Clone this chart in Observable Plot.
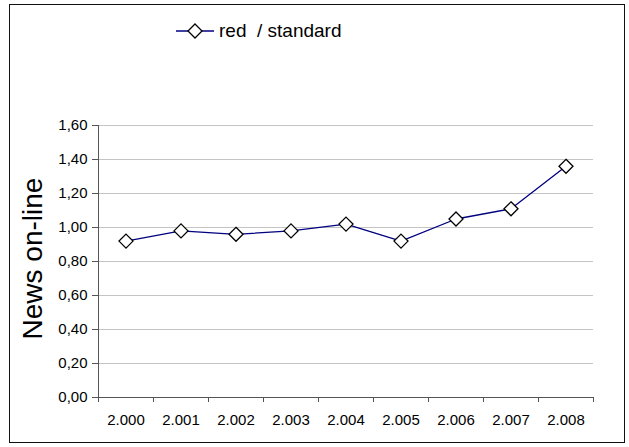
<!DOCTYPE html>
<html><head><meta charset="utf-8">
<script src="https://cdn.jsdelivr.net/npm/d3@7"></script>
<script src="https://cdn.jsdelivr.net/npm/@observablehq/plot@0.6"></script>
<style>
body{margin:0;background:#fff;}
#wrap{position:relative;width:629px;height:447px;font-family:"Liberation Sans",Arial,sans-serif;overflow:hidden;}
#frame{position:absolute;left:9px;top:4px;width:614px;height:437px;border:1.6px solid #111;pointer-events:none;}
#legend{position:absolute;left:176px;top:19px;display:flex;align-items:center;font-size:19px;color:#000;}
#legend svg{display:block;}
#legend span{margin-left:5px;white-space:pre;}
#chart{position:absolute;left:0;top:0;}
</style>
</head><body>
<div id="wrap">
  <div id="chart"></div>
  <div id="frame"></div>
  <div id="legend"></div>
</div>
<script>
const years = ["2.000","2.001","2.002","2.003","2.004","2.005","2.006","2.007","2.008"];
const values = [0.92, 0.98, 0.96, 0.98, 1.02, 0.92, 1.05, 1.11, 1.36];
const yTicks = [0, 0.2, 0.4, 0.6, 0.8, 1.0, 1.2, 1.4, 1.6];
const seriesName = "red  / standard";
const yLabel = "News on-line";

const data = years.map((y, i) => ({pos: i + 0.5, value: values[i], year: y}));
const boundaries = d3.range(years.length + 1);
const centers = d3.range(years.length).map(i => i + 0.5);

const plot = Plot.plot({
  width: 629,
  height: 447,
  marginLeft: 98,
  marginRight: 36,
  marginTop: 125,
  marginBottom: 50,
  style: {fontFamily: '"Liberation Sans", Arial, sans-serif', color: "#000", background: "transparent"},
  x: {type: "linear", domain: [0, years.length]},
  y: {domain: [yTicks[0], yTicks[yTicks.length - 1]]},
  marks: [
    Plot.gridY(yTicks.filter(d => d > 0), {stroke: "#c4c4c4", strokeOpacity: 1, strokeWidth: 1}),
    Plot.axisY(yTicks, {tickFormat: d => d.toFixed(2).replace(".", ","), tickSize: 6, tickPadding: 5, fontSize: 15, label: null, stroke: "#555"}),
    Plot.axisX(boundaries, {tickFormat: () => "", tickSize: 5, label: null, stroke: "#555"}),
    Plot.axisX(centers, {tickSize: 0, tickPadding: 17, tickFormat: d => years[Math.floor(d)], fontSize: 15, label: null}),
    Plot.ruleX([0], {stroke: "#555"}),
    Plot.ruleY([0], {stroke: "#555"}),
    Plot.text([yLabel], {frameAnchor: "left", textAnchor: "middle", rotate: -90, dx: -65, dy: -3, fontSize: 28, fill: "#000"}),
    Plot.line(data, {x: "pos", y: "value", stroke: "#000080", strokeWidth: 1.3}),
    Plot.dot(data, {x: "pos", y: "value", symbol: "diamond2", r: 6.3, stroke: "#000", fill: "#fff", strokeWidth: 1.3})
  ]
});
document.getElementById("chart").appendChild(plot);

// legend
const leg = document.getElementById("legend");
const ns = "http://www.w3.org/2000/svg";
const ls = document.createElementNS(ns, "svg");
ls.setAttribute("width", 38); ls.setAttribute("height", 24);
ls.innerHTML = '<line x1="0" x2="38" y1="12" y2="12" stroke="#000080" stroke-width="1.3"/>' +
  '<path d="M19,5L26,12L19,19L12,12Z" fill="#fff" stroke="#000" stroke-width="1.3"/>';
leg.appendChild(ls);
const sp = document.createElement("span");
sp.textContent = seriesName;
leg.appendChild(sp);
</script>
</body></html>
